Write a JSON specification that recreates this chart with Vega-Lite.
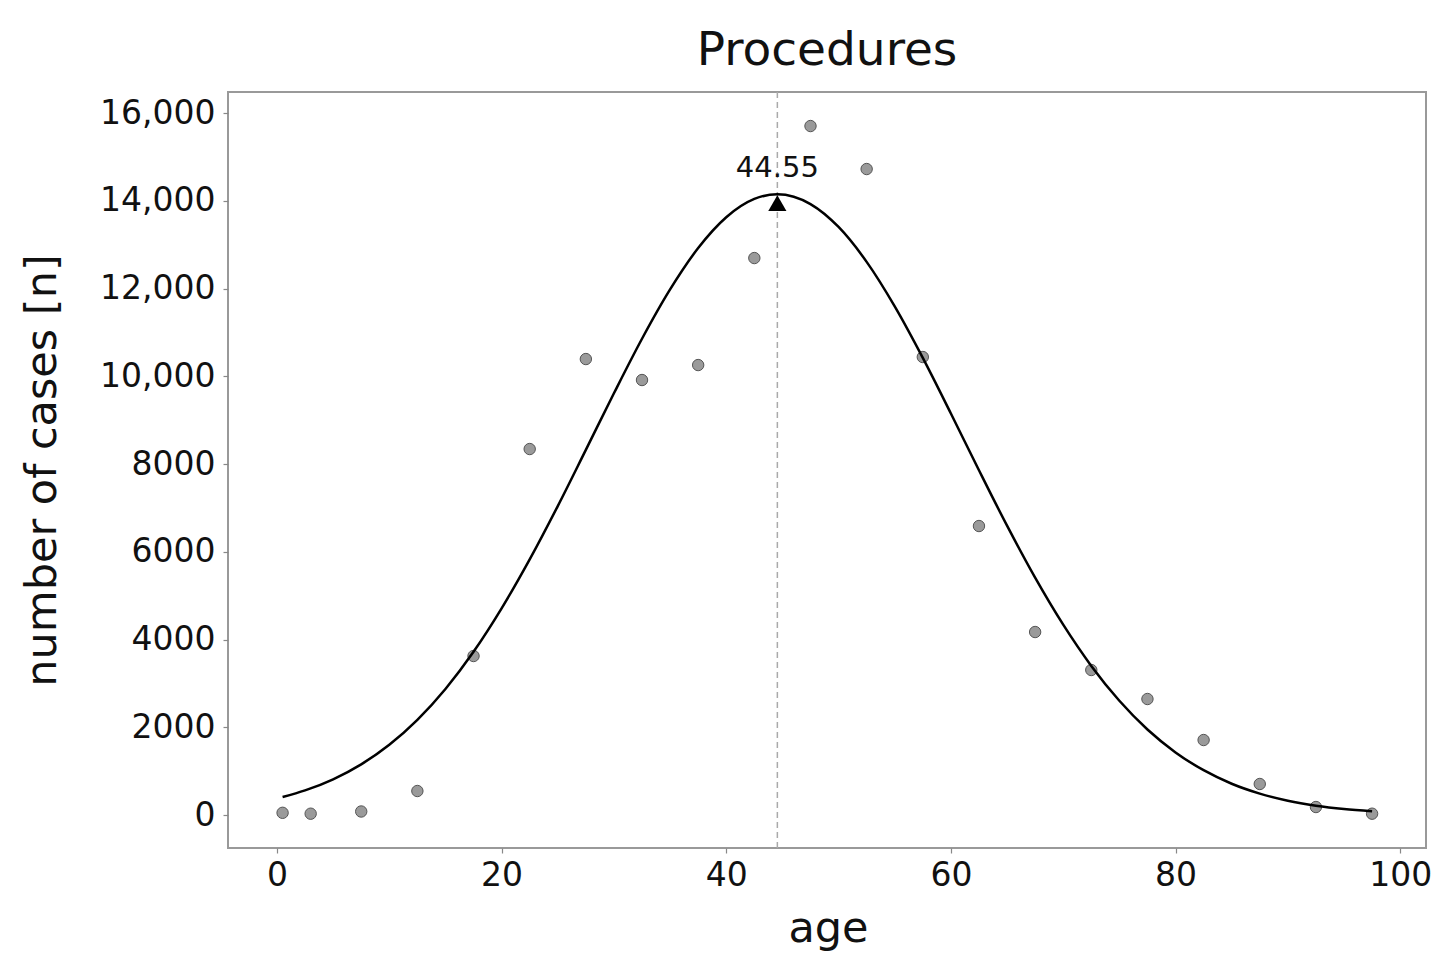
{
  "$schema": "https://vega.github.io/schema/vega-lite/v6.json",
  "autosize": "none",
  "width": 1198,
  "height": 756,
  "padding": {"left": 228, "top": 92, "right": 27, "bottom": 126},
  "background": "white",
  "config": {
    "font": "DejaVu Sans",
    "view": {"stroke": "#999999", "strokeWidth": 2},
    "axis": {"grid": false, "domain": false, "tickColor": "#888888", "tickSize": 5, "tickWidth": 1.2, "labelColor": "#111111", "titleColor": "#111111", "titleFontWeight": "normal", "labelFont": "DejaVu Sans", "titleFont": "DejaVu Sans"}
  },
  "title": {"text": "Procedures", "fontSize": 47, "fontWeight": "normal", "font": "DejaVu Sans", "color": "#111111", "anchor": "middle", "baseline": "alphabetic", "offset": -21},
  "datasets": {
    "obs": [
      {"age": 0.5, "cases": 50}, {"age": 3, "cases": 30}, {"age": 7.5, "cases": 80},
      {"age": 12.5, "cases": 547}, {"age": 17.5, "cases": 3624}, {"age": 22.5, "cases": 8342},
      {"age": 27.5, "cases": 10393}, {"age": 32.5, "cases": 9915}, {"age": 37.5, "cases": 10256},
      {"age": 42.5, "cases": 12695}, {"age": 47.5, "cases": 15704}, {"age": 52.5, "cases": 14724},
      {"age": 57.5, "cases": 10439}, {"age": 62.5, "cases": 6587}, {"age": 67.5, "cases": 4171},
      {"age": 72.5, "cases": 3305}, {"age": 77.5, "cases": 2644}, {"age": 82.5, "cases": 1709},
      {"age": 87.5, "cases": 707}, {"age": 92.5, "cases": 182}, {"age": 97.5, "cases": 30}
    ],
    "fit": [
      {"age": 0.5, "cases": 410}, {"age": 2.5, "cases": 561}, {"age": 5, "cases": 814},
      {"age": 7.5, "cases": 1155}, {"age": 10, "cases": 1601}, {"age": 12.5, "cases": 2169},
      {"age": 15, "cases": 2874}, {"age": 17.5, "cases": 3721}, {"age": 20, "cases": 4711},
      {"age": 22.5, "cases": 5826}, {"age": 25, "cases": 7042}, {"age": 27.5, "cases": 8323},
      {"age": 30, "cases": 9613}, {"age": 32.5, "cases": 10856}, {"age": 35, "cases": 11980},
      {"age": 37.5, "cases": 12923}, {"age": 40, "cases": 13625}, {"age": 42.5, "cases": 14042},
      {"age": 44.55, "cases": 14150}, {"age": 47.5, "cases": 13926}, {"age": 50, "cases": 13403},
      {"age": 52.5, "cases": 12608}, {"age": 55, "cases": 11593}, {"age": 57.5, "cases": 10419},
      {"age": 60, "cases": 9152}, {"age": 62.5, "cases": 7858}, {"age": 65, "cases": 6595},
      {"age": 67.5, "cases": 5410}, {"age": 70, "cases": 4338}, {"age": 72.5, "cases": 3399},
      {"age": 75, "cases": 2604}, {"age": 77.5, "cases": 1950}, {"age": 80, "cases": 1427},
      {"age": 82.5, "cases": 1021}, {"age": 85, "cases": 713}, {"age": 87.5, "cases": 488},
      {"age": 90, "cases": 326}, {"age": 92.5, "cases": 213}, {"age": 95, "cases": 136},
      {"age": 97.5, "cases": 85}
    ],
    "peak": [{"age": 44.55, "cases": 14150, "label": "44.55"}]
  },
  "encoding": {
    "x": {"field": "age", "type": "quantitative",
      "scale": {"domain": [-4.36, 102.3], "nice": false, "zero": false},
      "axis": {"values": [0, 20, 40, 60, 80, 100], "title": "age", "labelFontSize": 33, "labelPadding": 6, "titleFontSize": 43, "titleX": 600, "titleY": 80, "titleBaseline": "middle", "titleAlign": "center"}},
    "y": {"field": "cases", "type": "quantitative",
      "scale": {"domain": [-752, 16480], "nice": false, "zero": false},
      "axis": {"values": [0, 2000, 4000, 6000, 8000, 10000, 12000, 14000, 16000], "title": "number of cases [n]",
        "labelExpr": "datum.value >= 10000 ? format(datum.value, ',') : format(datum.value, 'd')",
        "labelFontSize": 33, "labelPadding": 8, "titleFontSize": 43, "titleX": -186, "titleY": 378, "titleAngle": -90, "titleBaseline": "middle", "titleAlign": "center"}}
  },
  "layer": [
    {
      "data": {"name": "peak"},
      "mark": {"type": "rule", "color": "#aaaaaa", "strokeWidth": 1.5, "strokeDash": [6, 4]},
      "encoding": {"x": {"field": "age", "type": "quantitative"}, "y": {"value": 0}, "y2": {"value": 756}}
    },
    {
      "data": {"name": "obs"},
      "mark": {"type": "point", "filled": true, "shape": "circle", "size": 130, "fill": "#8f8f8f", "stroke": "#555555", "strokeWidth": 1, "opacity": 1, "fillOpacity": 0.9}
    },
    {
      "data": {"name": "fit"},
      "mark": {"type": "line", "color": "#000000", "strokeWidth": 2.5, "interpolate": "monotone"}
    },
    {
      "data": {"name": "peak"},
      "mark": {"type": "point", "shape": "triangle-up", "filled": true, "size": 330, "color": "#000000", "opacity": 1, "yOffset": 9}
    },
    {
      "data": {"name": "peak"},
      "mark": {"type": "text", "fontSize": 29, "font": "DejaVu Sans", "color": "#111111", "baseline": "alphabetic", "align": "center", "dy": -17},
      "encoding": {"text": {"field": "label"}}
    }
  ]
}
